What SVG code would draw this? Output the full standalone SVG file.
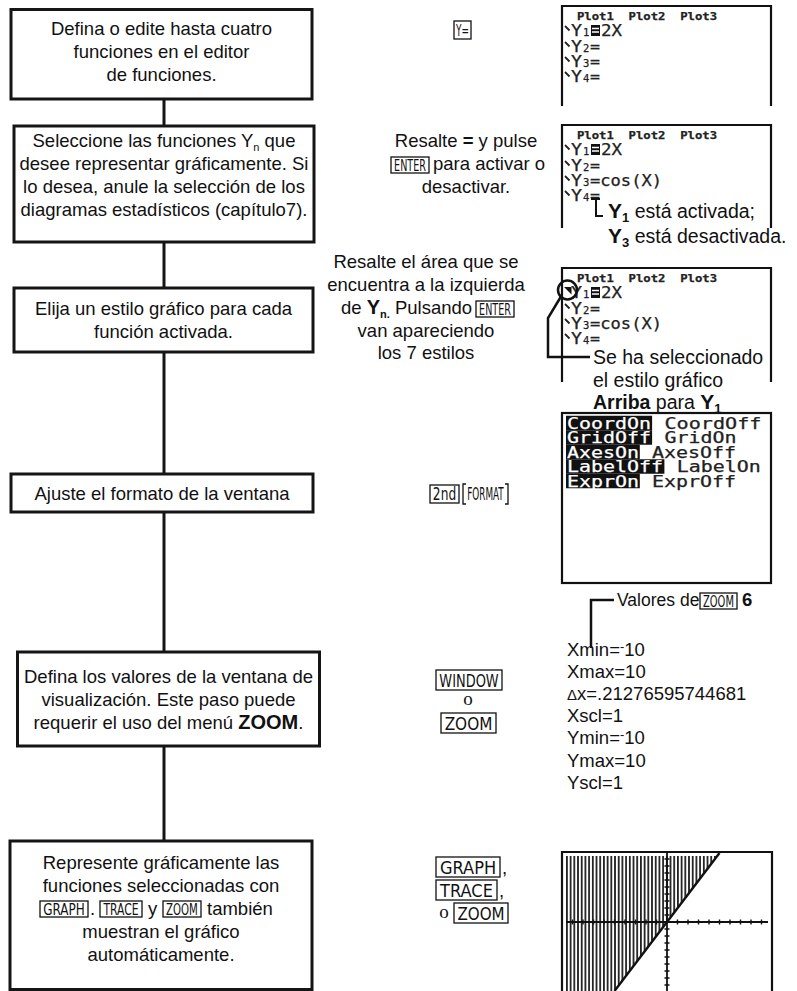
<svg xmlns="http://www.w3.org/2000/svg" width="797" height="991" viewBox="0 0 797 991">
<defs>
<style>
.t{font-family:"Liberation Sans",Arial,Helvetica,sans-serif;font-size:18.5px;fill:#111}
.n{font-size:19.5px}
.v{font-size:17.5px}
.c{text-anchor:middle}
.b{font-weight:bold}
.box{fill:#fff;stroke:#151515;stroke-width:3}
.conn{fill:none;stroke:#151515;stroke-width:3}
.key{fill:#fff;stroke:#111;stroke-width:1.3}
.kt{font-family:"DejaVu Sans","Liberation Sans",sans-serif;fill:#111;text-anchor:middle}
.scr{fill:none;stroke:#111;stroke-width:2.2}
.lcd{font-family:"DejaVu Sans Mono","Liberation Mono",monospace;fill:#222;stroke:#222;stroke-width:0.25}
.big{font-size:15.5px}
.fmt{font-size:15px}
.sm{font-size:10.5px;font-weight:bold}
.sub{font-size:10.5px}
.inv{fill:#fff;stroke:#fff}
.hl{fill:#111}
.tick{stroke:#111;stroke-width:1.4}
.call{fill:none;stroke:#111;stroke-width:2.5}
.o{font-family:"Liberation Serif","Times New Roman",serif;font-size:19px;fill:#111;text-anchor:middle}
</style>
<pattern id="shade" x="566" y="0" width="3.7" height="8" patternUnits="userSpaceOnUse"><rect width="1.8" height="8" fill="#222"/></pattern>
<path id="bs" d="M0,0 l4.5,4.5" stroke="#222" stroke-width="1.8" fill="none"/>
</defs>
<rect width="797" height="991" fill="#fff"/>

<!-- connectors between the steps -->
<g id="connectors">
<path class="conn" d="M164,99 V126 M164,242 V288 M164,352 V474 M164,512 V652 M164,746 V841"/>
</g>

<!-- step boxes -->
<g id="step1">
<rect class="box" x="11" y="9.5" width="301" height="89.5"/>
<text class="t c" x="161.5" y="35">Defina o edite hasta cuatro</text>
<text class="t c" x="161.5" y="58">funciones en el editor</text>
<text class="t c" x="161.5" y="81">de funciones.</text>
</g>
<g id="step2">
<rect class="box" x="14" y="126" width="300" height="116"/>
<text class="t c" x="164" y="147">Seleccione las funciones Y<tspan font-size="11" dy="4">n</tspan><tspan dy="-4"> que</tspan></text>
<text class="t c" x="164" y="170">desee representar gráficamente. Si</text>
<text class="t c" x="164" y="193">lo desea, anule la selección de los</text>
<text class="t c" x="164" y="216">diagramas estadísticos (capítulo7).</text>
</g>
<g id="step3">
<rect class="box" x="14" y="288" width="299" height="64"/>
<text class="t c" x="163.5" y="315">Elija un estilo gráfico para cada</text>
<text class="t c" x="163.5" y="338">función activada.</text>
</g>
<g id="step4">
<rect class="box" x="11" y="474" width="302" height="38"/>
<text class="t c" x="162" y="500">Ajuste el formato de la ventana</text>
</g>
<g id="step5">
<rect class="box" x="17.5" y="652" width="302" height="94"/>
<text class="t c" x="168.5" y="683">Defina los valores de la ventana de</text>
<text class="t c" x="168.5" y="706">visualización. Este paso puede</text>
<text class="t c" x="168.5" y="729">requerir el uso del menú <tspan class="b" font-size="20">ZOOM</tspan>.</text>
</g>
<g id="step6">
<rect class="box" x="10" y="841" width="302" height="148.5"/>
<text class="t c" x="161" y="869">Represente gráficamente las</text>
<text class="t c" x="161" y="892">funciones seleccionadas con</text>
<rect class="key" x="40" y="901" width="48" height="16"/>
<text class="kt" transform="translate(64,914.5) scale(0.8,1)" font-size="15">GRAPH</text>
<text class="t" x="90" y="915">.</text>
<rect class="key" x="100" y="901" width="42" height="16"/>
<text class="kt" transform="translate(121,914.5) scale(0.72,1)" font-size="15">TRACE</text>
<text class="t" x="148" y="915">y</text>
<rect class="key" x="163" y="901" width="38" height="16"/>
<text class="kt" transform="translate(182,914.5) scale(0.68,1)" font-size="15">ZOOM</text>
<text class="t" x="207" y="915">también</text>
<text class="t c" x="161" y="938">muestran el gráfico</text>
<text class="t c" x="161" y="961">automáticamente.</text>
</g>

<!-- keystrokes for each step -->
<g id="keys1">
<rect class="key" x="454" y="21" width="17" height="18"/>
<text class="kt" transform="translate(462.5,36) scale(0.56,1)" font-size="16">Y=</text>
</g>
<g id="keys2">
<text class="t c" x="466" y="147">Resalte <tspan class="b">=</tspan> y pulse</text>
<rect class="key" x="391" y="157" width="38" height="16"/>
<text class="kt" transform="translate(410,170.5) scale(0.64,1)" font-size="15">ENTER</text>
<text class="t" x="433" y="170">para activar o</text>
<text class="t c" x="466" y="193">desactivar.</text>
</g>
<g id="keys3">
<text class="t c" x="426" y="268">Resalte el área que se</text>
<text class="t c" x="426" y="291">encuentra a la izquierda</text>
<text class="t" x="341" y="314">de <tspan class="b" font-size="20">Y</tspan><tspan class="b" font-size="11" dy="4">n.</tspan><tspan dy="-4"> Pulsando</tspan></text>
<rect class="key" x="476" y="301" width="38" height="16"/>
<text class="kt" transform="translate(495,314.5) scale(0.64,1)" font-size="15">ENTER</text>
<text class="t c" x="426" y="337">van apareciendo</text>
<text class="t c" x="426" y="359">los 7 estilos</text>
</g>
<g id="keys4">
<rect class="key" x="430" y="485" width="29" height="18"/>
<text class="kt" transform="translate(444.5,500) scale(0.72,1)" font-size="17">2nd</text>
<path d="M466,484 h-3 v20 h3 M505,484 h3 v20 h-3" fill="none" stroke="#111" stroke-width="1.3"/>
<text class="kt" transform="translate(485.5,500) scale(0.52,1)" font-size="17">FORMAT</text>
</g>
<g id="keys5">
<rect class="key" x="436" y="670" width="66" height="20"/>
<text class="kt" transform="translate(469,686.5) scale(0.72,1)" font-size="18">WINDOW</text>
<text class="o" x="468" y="705">o</text>
<rect class="key" x="441" y="713" width="55" height="20"/>
<text class="kt" transform="translate(468.5,729.5) scale(0.85,1)" font-size="18">ZOOM</text>
</g>
<g id="keys6">
<rect class="key" x="436" y="857" width="64" height="20"/>
<text class="kt" transform="translate(468,873.5) scale(0.9,1)" font-size="18">GRAPH</text>
<text class="t" x="502" y="874">,</text>
<rect class="key" x="436" y="880" width="61" height="20"/>
<text class="kt" transform="translate(466.5,896.5) scale(0.9,1)" font-size="18">TRACE</text>
<text class="t" x="499" y="897">,</text>
<text class="o" x="444" y="918">o</text>
<rect class="key" x="454" y="903" width="54" height="20"/>
<text class="kt" transform="translate(481,919.5) scale(0.84,1)" font-size="18">ZOOM</text>
</g>

<!-- calculator screen: Y= editor -->
<g id="screen1" transform="translate(562,6)">
<path class="scr" d="M0,100 V0 H209 V100"/>
<text class="lcd sm" x="15" y="14" textLength="140" lengthAdjust="spacingAndGlyphs" xml:space="preserve">Plot1  Plot2  Plot3</text>
<use href="#bs" x="3" y="20"/>
<text class="lcd big" x="9" y="30" textLength="11" lengthAdjust="spacingAndGlyphs">Y</text>
<text class="lcd sub" x="21" y="30">1</text>
<rect class="hl" x="29" y="19" width="9" height="11"/>
<path d="M30,22.5 h7 M30,26 h7" stroke="#fff" stroke-width="1.4"/>
<text class="lcd big" x="39" y="30" textLength="21" lengthAdjust="spacingAndGlyphs">2X</text>
<use href="#bs" x="3" y="36"/>
<text class="lcd big" x="9" y="46" textLength="11" lengthAdjust="spacingAndGlyphs">Y</text>
<text class="lcd sub" x="21" y="46">2</text>
<text class="lcd big" x="28" y="46" textLength="10" lengthAdjust="spacingAndGlyphs">=</text>
<use href="#bs" x="3" y="51"/>
<text class="lcd big" x="9" y="61" textLength="11" lengthAdjust="spacingAndGlyphs">Y</text>
<text class="lcd sub" x="21" y="61">3</text>
<text class="lcd big" x="28" y="61" textLength="10" lengthAdjust="spacingAndGlyphs">=</text>
<use href="#bs" x="3" y="66"/>
<text class="lcd big" x="9" y="76" textLength="11" lengthAdjust="spacingAndGlyphs">Y</text>
<text class="lcd sub" x="21" y="76">4</text>
<text class="lcd big" x="28" y="76" textLength="10" lengthAdjust="spacingAndGlyphs">=</text>
</g>

<!-- calculator screen: Y3 deselected -->
<g id="screen2" transform="translate(562,125)">
<path class="scr" d="M0,103 V0 H209 V103"/>
<text class="lcd sm" x="15" y="14" textLength="140" lengthAdjust="spacingAndGlyphs" xml:space="preserve">Plot1  Plot2  Plot3</text>
<use href="#bs" x="3" y="20"/>
<text class="lcd big" x="9" y="30" textLength="11" lengthAdjust="spacingAndGlyphs">Y</text>
<text class="lcd sub" x="21" y="30">1</text>
<rect class="hl" x="29" y="19" width="9" height="11"/>
<path d="M30,22.5 h7 M30,26 h7" stroke="#fff" stroke-width="1.4"/>
<text class="lcd big" x="39" y="30" textLength="21" lengthAdjust="spacingAndGlyphs">2X</text>
<use href="#bs" x="3" y="36"/>
<text class="lcd big" x="9" y="46" textLength="11" lengthAdjust="spacingAndGlyphs">Y</text>
<text class="lcd sub" x="21" y="46">2</text>
<text class="lcd big" x="28" y="46" textLength="10" lengthAdjust="spacingAndGlyphs">=</text>
<use href="#bs" x="3" y="51"/>
<text class="lcd big" x="9" y="61" textLength="11" lengthAdjust="spacingAndGlyphs">Y</text>
<text class="lcd sub" x="21" y="61">3</text>
<text class="lcd big" x="28" y="61" textLength="72" lengthAdjust="spacingAndGlyphs">=cos(X)</text>
<use href="#bs" x="3" y="66"/>
<text class="lcd big" x="9" y="76" textLength="11" lengthAdjust="spacingAndGlyphs">Y</text>
<text class="lcd sub" x="21" y="76">4</text>
<text class="lcd big" x="28" y="76" textLength="10" lengthAdjust="spacingAndGlyphs">=</text>
</g>
<g id="note2">
<path d="M591,199 H600 M596,199 V216 H603" fill="none" stroke="#111" stroke-width="2"/>
<text class="t n" x="608" y="218"><tspan class="b" font-size="21">Y</tspan><tspan class="b" font-size="13" dy="4">1</tspan><tspan dy="-4"> está activada;</tspan></text>
<text class="t n" x="608" y="243"><tspan class="b" font-size="21">Y</tspan><tspan class="b" font-size="13" dy="4">3</tspan><tspan dy="-4"> está desactivada.</tspan></text>
</g>

<!-- calculator screen: graph style icon -->
<g id="screen3" transform="translate(562,268)">
<path class="scr" d="M0,114 V0 H209 V114"/>
<text class="lcd sm" x="15" y="14" textLength="140" lengthAdjust="spacingAndGlyphs" xml:space="preserve">Plot1  Plot2  Plot3</text>
<polygon points="2,19 9.5,19 9.5,26.5" fill="#111"/>
<text class="lcd big" x="9" y="30" textLength="11" lengthAdjust="spacingAndGlyphs">Y</text>
<text class="lcd sub" x="21" y="30">1</text>
<rect class="hl" x="29" y="19" width="9" height="11"/>
<path d="M30,22.5 h7 M30,26 h7" stroke="#fff" stroke-width="1.4"/>
<text class="lcd big" x="39" y="30" textLength="21" lengthAdjust="spacingAndGlyphs">2X</text>
<use href="#bs" x="3" y="36"/>
<text class="lcd big" x="9" y="46" textLength="11" lengthAdjust="spacingAndGlyphs">Y</text>
<text class="lcd sub" x="21" y="46">2</text>
<text class="lcd big" x="28" y="46" textLength="10" lengthAdjust="spacingAndGlyphs">=</text>
<use href="#bs" x="3" y="51"/>
<text class="lcd big" x="9" y="61" textLength="11" lengthAdjust="spacingAndGlyphs">Y</text>
<text class="lcd sub" x="21" y="61">3</text>
<text class="lcd big" x="28" y="61" textLength="72" lengthAdjust="spacingAndGlyphs">=cos(X)</text>
<use href="#bs" x="3" y="66"/>
<text class="lcd big" x="9" y="76" textLength="11" lengthAdjust="spacingAndGlyphs">Y</text>
<text class="lcd sub" x="21" y="76">4</text>
<text class="lcd big" x="28" y="76" textLength="10" lengthAdjust="spacingAndGlyphs">=</text>
</g>
<g id="note3">
<circle class="call" cx="567.5" cy="290" r="9.5"/>
<path class="call" d="M561,296.5 L548,318 V357 H590"/>
<text class="t n" x="593" y="364">Se ha seleccionado</text>
<text class="t n" x="593" y="387">el estilo gráfico</text>
<text class="t n" x="593" y="409"><tspan class="b">Arriba</tspan> para <tspan class="b" font-size="21">Y</tspan><tspan class="b" font-size="13" dy="4">1</tspan></text>
</g>

<!-- calculator screen: format settings -->
<g id="screen4">
<rect class="scr" x="562" y="413" width="209" height="170"/>
<rect class="hl" x="566" y="415.75" width="86.1" height="14.5"/>
<rect class="hl" x="566" y="430.25" width="86.1" height="14.5"/>
<rect class="hl" x="566" y="444.75" width="73.8" height="14.5"/>
<rect class="hl" x="566" y="459.25" width="98.4" height="14.5"/>
<rect class="hl" x="566" y="473.75" width="73.8" height="14.5"/>
<text class="lcd fmt inv" x="567" y="428.5" textLength="84" lengthAdjust="spacingAndGlyphs">CoordOn</text>
<text class="lcd fmt" x="664.4" y="428.5" textLength="97" lengthAdjust="spacingAndGlyphs">CoordOff</text>
<text class="lcd fmt inv" x="567" y="443" textLength="84" lengthAdjust="spacingAndGlyphs">GridOff</text>
<text class="lcd fmt" x="664.4" y="443" textLength="72" lengthAdjust="spacingAndGlyphs">GridOn</text>
<text class="lcd fmt inv" x="567" y="457.5" textLength="72" lengthAdjust="spacingAndGlyphs">AxesOn</text>
<text class="lcd fmt" x="652.1" y="457.5" textLength="84" lengthAdjust="spacingAndGlyphs">AxesOff</text>
<text class="lcd fmt inv" x="567" y="472" textLength="96" lengthAdjust="spacingAndGlyphs">LabelOff</text>
<text class="lcd fmt" x="676.7" y="472" textLength="84" lengthAdjust="spacingAndGlyphs">LabelOn</text>
<text class="lcd fmt inv" x="567" y="486.5" textLength="72" lengthAdjust="spacingAndGlyphs">ExprOn</text>
<text class="lcd fmt" x="652.1" y="486.5" textLength="84" lengthAdjust="spacingAndGlyphs">ExprOff</text>
</g>

<!-- window values after ZOOM 6 -->
<g id="window">
<path class="call" d="M591,648 V600 H614"/>
<text class="t v" x="617" y="606">Valores de</text>
<rect class="key" x="700" y="593" width="37" height="16"/>
<text class="kt" transform="translate(718.5,606.5) scale(0.66,1)" font-size="15">ZOOM</text>
<text class="t b" x="742" y="606">6</text>
<text class="t" x="567" y="656">Xmin=<tspan font-size="13" dy="-5">-</tspan><tspan dy="5">10</tspan></text>
<text class="t" x="567" y="678">Xmax=10</text>
<text class="t" x="567" y="700"><tspan font-size="15">Δ</tspan>x=.21276595744681</text>
<text class="t" x="567" y="722">Xscl=1</text>
<text class="t" x="567" y="744">Ymin=<tspan font-size="13" dy="-5">-</tspan><tspan dy="5">10</tspan></text>
<text class="t" x="567" y="767">Ymax=10</text>
<text class="t" x="567" y="789">Yscl=1</text>
</g>

<!-- calculator screen: graph of Y1=2X shaded above -->
<g id="screen5">
<polygon points="566,856 717,856 614,991 566,991" fill="url(#shade)"/>
<path d="M719.5,853 L614.5,991" stroke="#111" stroke-width="2.4"/>
<path d="M566,922 H768" stroke="#111" stroke-width="2"/>
<path d="M667,852 V991" stroke="#111" stroke-width="1.8"/>
<path class="tick" d="M572.5,919.5 v5 M583,919.5 v5 M593.5,919.5 v5 M604,919.5 v5 M614.5,919.5 v5 M625,919.5 v5 M635.5,919.5 v5 M646,919.5 v5 M656.5,919.5 v5 M677.5,919.5 v5 M688,919.5 v5 M698.5,919.5 v5 M709,919.5 v5 M719.5,919.5 v5 M730,919.5 v5 M740.5,919.5 v5 M751,919.5 v5 M761.5,919.5 v5"/>
<path class="tick" d="M664.5,859 h5 M664.5,866 h5 M664.5,873 h5 M664.5,880 h5 M664.5,887 h5 M664.5,894 h5 M664.5,901 h5 M664.5,908 h5 M664.5,915 h5 M664.5,929 h5 M664.5,936 h5 M664.5,943 h5 M664.5,950 h5 M664.5,957 h5 M664.5,964 h5 M664.5,971 h5 M664.5,978 h5 M664.5,985 h5"/>
<path class="scr" d="M562,991 V852 H772 V991"/>
</g>
</svg>
